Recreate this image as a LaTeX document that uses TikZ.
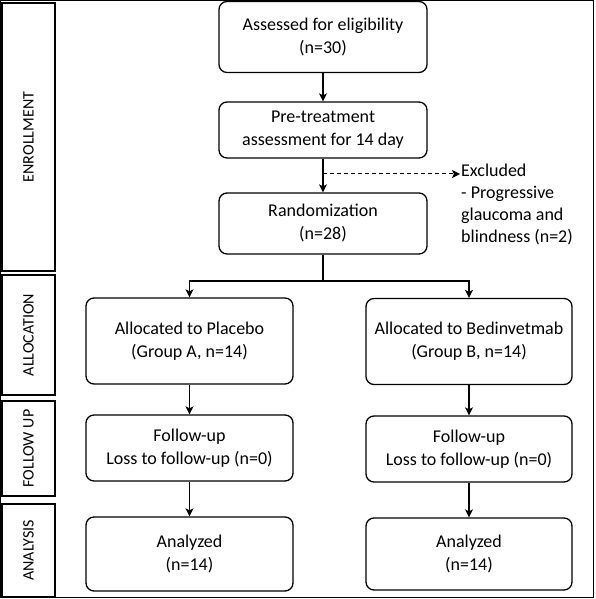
\documentclass[tikz,border=0pt]{standalone}
\usepackage{fontspec}
\setmainfont{Carlito}
\usetikzlibrary{arrows.meta}
\begin{document}
\begin{tikzpicture}[x=1pt,y=1pt,
  box/.style={draw, line width=1.3pt, rounded corners=8pt, align=center, inner sep=0pt,
    font=\fontsize{18}{23}\selectfont},
  lab/.style={draw, line width=1.3pt, inner sep=0pt, font=\fontsize{16}{18}\selectfont, rotate=90},
  conn/.style={line width=1.3pt},
  arr/.style={line width=1.3pt, -{Stealth[length=8pt,width=8pt,inset=2pt]}}]
\useasboundingbox (0,0) rectangle (595,599);
\draw[line width=1.5pt] (0.7,1.5) rectangle (593.5,598.3);
% phase labels
\node[lab, minimum width=268, minimum height=53] (enr) at (28.5,462) {ENROLLMENT};
\node[lab, minimum width=120, minimum height=53] (alo) at (28.5,264) {ALLOCATION};
\node[lab, minimum width=95, minimum height=53] (fol) at (28.5,150.5) {FOLLOW UP};
\node[lab, minimum width=93, minimum height=53] (ana) at (28.5,48.5) {ANALYSIS};
% main boxes
\node[box, minimum width=208, minimum height=71] (ass) at (323,562) {Assessed for eligibility\\(n=30)};
\node[box, minimum width=208, minimum height=56] (pre) at (323,469) {Pre-treatment\\assessment for 14 day};
\node[box, minimum width=208, minimum height=61] (ran) at (323,375.5) {Randomization\\(n=28)};
\node[box, minimum width=207, minimum height=86] (alA) at (189.5,258) {Allocated to Placebo\\(Group A, n=14)};
\node[box, minimum width=206, minimum height=86] (alB) at (469,257.5) {Allocated to Bedinvetmab\\(Group B, n=14)};
\node[box, minimum width=207, minimum height=66] (fuA) at (189.5,151) {Follow-up\\Loss to follow-up (n=0)};
\node[box, minimum width=206, minimum height=66] (fuB) at (469,150) {Follow-up\\Loss to follow-up (n=0)};
\node[box, minimum width=207, minimum height=74] (anA) at (189.5,45) {Analyzed\\(n=14)};
\node[box, minimum width=206, minimum height=72] (anB) at (469,45) {Analyzed\\(n=14)};
% excluded
\node[align=left, anchor=north west, inner sep=0pt, font=\fontsize{18}{22}\selectfont] (exc) at (461,435)
  {Excluded\\- Progressive\\glaucoma and\\blindness (n=2)};
% connectors
\draw[arr] (ass) -- (pre);
\draw[arr] (pre) -- (ran);
\coordinate (ex) at (323,425);
\coordinate (exend) at (460,425);
\draw[line width=1pt, dash pattern=on 4pt off 3pt, -{Stealth[length=8pt,width=8pt,inset=2pt]}] (ex) -- (exend);
\coordinate (br) at (323,318);
\draw[conn] (ran.south) -- (br);
\draw[arr] (br) -| (alA.north);
\draw[arr] (br) -| (alB.north);
\draw[arr] (alA) -- (fuA);
\draw[arr] (alB) -- (fuB);
\draw[arr] (fuA) -- (anA);
\draw[arr] (fuB) -- (anB);
\end{tikzpicture}
\end{document}
